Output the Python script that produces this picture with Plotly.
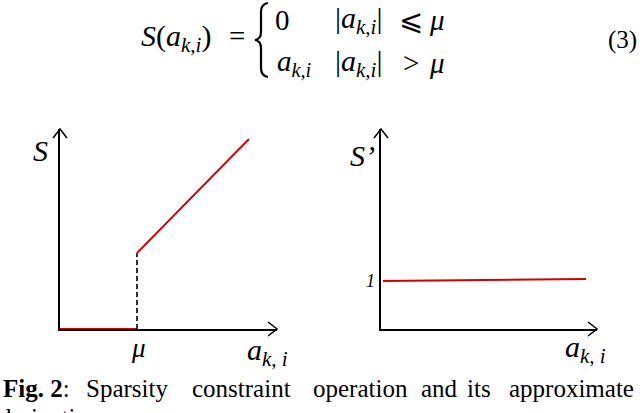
import plotly.graph_objects as go

# ---------------------------------------------------------------
# data (axis units: left panel x 0..217, right panel x 0..216, y 0..200)
# ---------------------------------------------------------------
mu = 77
zero_x = [0, mu]
zero_y = [0, 0]
jump_x = [mu, mu]
jump_y = [0, 76]
lin_x = [mu, 189]
lin_y = [76, 190]

deriv_x = [2, 205]
deriv_y = [48, 50]

caption_words = ["<b>Fig. 2</b>:", "Sparsity", "constraint", "operation", "and", "its", "approximate"]
caption_mid = [36, 127, 241, 360, 439, 479, 571]

W, H = 640, 413
RED = "#d20000"
SERIF = "Liberation Serif, Times New Roman, serif"


def px(x):
    return x / W


def py(y):
    return 1 - y / H


fig = go.Figure()

fig.add_trace(go.Scatter(x=zero_x, y=zero_y, mode="lines", cliponaxis=False,
                         line=dict(color=RED, width=2), xaxis="x", yaxis="y"))
fig.add_trace(go.Scatter(x=jump_x, y=jump_y, mode="lines", cliponaxis=False,
                         line=dict(color="black", width=1.6, dash="5px,3px"), xaxis="x", yaxis="y"))
fig.add_trace(go.Scatter(x=lin_x, y=lin_y, mode="lines", cliponaxis=False,
                         line=dict(color=RED, width=1.8), xaxis="x", yaxis="y"))
fig.add_trace(go.Scatter(x=deriv_x, y=deriv_y, mode="lines", cliponaxis=False,
                         line=dict(color=RED, width=2), xaxis="x2", yaxis="y2"))

axis_style = dict(showline=True, linecolor="black", linewidth=1.6, showgrid=False,
                  zeroline=False, showticklabels=False, ticks="", layer="below traces",
                  fixedrange=True)

fig.update_layout(
    width=W, height=H,
    margin=dict(l=0, r=0, t=0, b=0),
    paper_bgcolor="white", plot_bgcolor="white",
    showlegend=False,
    xaxis=dict(domain=[px(60), px(277)], range=[0, 217], anchor="y", **axis_style),
    yaxis=dict(domain=[py(329), py(129)], range=[0, 200], anchor="x", **axis_style),
    xaxis2=dict(domain=[px(381), px(597)], range=[0, 216], anchor="y2", **axis_style),
    yaxis2=dict(domain=[py(329), py(129)], range=[0, 200], anchor="x2", **axis_style),
)


def pix_path(x, y, path, width=1.5):
    return dict(type="path", xref="paper", yref="paper", xsizemode="pixel", ysizemode="pixel",
                xanchor=px(x), yanchor=py(y), path=path,
                line=dict(color="black", width=width))


shapes = []
# arrow heads on the axes
for x_tip, y_left in [(277, 60), (597, 381)]:
    shapes.append(pix_path(x_tip, 329, "M -9,7 L 0,0 L -9,-7"))
    shapes.append(pix_path(y_left, 129, "M -7,-9 L 0,0 L 7,-9"))
# curly brace of the equation
shapes.append(pix_path(255, 40,
                       "M 13,37 Q 6,36 6,28 L 6,8 Q 6,1 0,0 Q 6,-1 6,-8 L 6,-28 Q 6,-36 13,-37",
                       width=2.2))
fig.update_layout(shapes=shapes)


def note(text, x, y, size):
    fig.add_annotation(text=text, x=px(x), y=py(y), xref="paper", yref="paper",
                       xanchor="center", yanchor="middle", showarrow=False,
                       font=dict(family=SERIF, size=size, color="black"))


aki = "<i>a</i><sub><i>k,i</i></sub>"

# equation (3)
note(f"<i>S</i>({aki})", 176, 38, 30)
note("=", 237, 36, 29)
note("0", 282, 20, 29)
note(aki, 294, 63, 29)
for row_y, rel in [(20, "⩽"), (63, "&gt;")]:
    note(f"|{aki}|", 358, row_y, 30)
    note(rel, 411, row_y, 29)
    note("<i>μ</i>", 437, row_y, 29)
note("(3)", 622, 40, 25)

# axis labels
note("<i>S</i>", 40, 150, 30)
note("<i>μ</i>", 138, 348, 27)
note("<i>a</i><sub><i>k, i</i></sub>", 267, 352, 30)
note("<i>S’</i>", 362, 156, 30)
note("<i>1</i>", 370, 281, 18)
note("<i>a</i><sub><i>k, i</i></sub>", 585, 349, 30)

# caption
for word, mid in zip(caption_words, caption_mid):
    note(word, mid, 388, 25)
note("derivative.", 52, 417, 25)

fig.write_html("out.html", config={"displayModeBar": False},
               post_script="document.body.style.margin = '0';")
